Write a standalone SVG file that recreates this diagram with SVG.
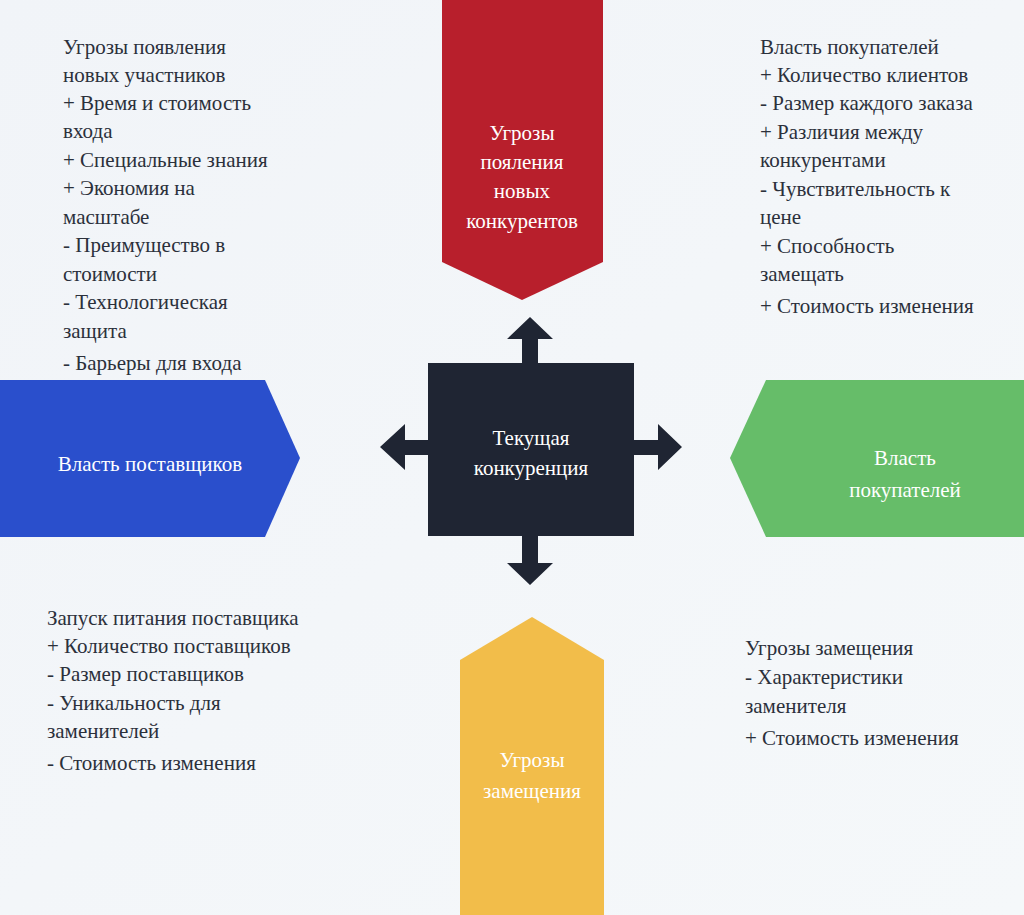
<svg xmlns="http://www.w3.org/2000/svg" width="1024" height="915" viewBox="0 0 1024 915">
<defs>
<style>
.t{font-family:'Liberation Serif','Times New Roman',serif;font-size:21px;fill:#2b303b}
.w{font-family:'Liberation Serif','Times New Roman',serif;font-size:21px;fill:#ffffff;text-anchor:middle}
.ar{fill:#1f2533}
</style>
<linearGradient id="bg" x1="0" y1="0" x2="1" y2="1">
<stop offset="0" stop-color="#f1f4f8"/>
<stop offset="1" stop-color="#f5f8fa"/>
</linearGradient>
</defs>
<rect width="1024" height="915" fill="url(#bg)"/>

<g id="connectors">
<polygon class="ar" points="530,317 553,339 538,339 538,363 522,363 522,339 507,339"/>
<polygon class="ar" points="530,585 553,563 538,563 538,536 522,536 522,563 507,563"/>
<polygon class="ar" points="380,447 405,424 405,440 428,440 428,455 405,455 405,470"/>
<polygon class="ar" points="682,447 658,424 658,440 634,440 634,455 658,455 658,470"/>
</g>

<g id="node-center">
<rect x="428" y="363" width="206" height="173" fill="#1f2533"/>
<text class="w" x="531" y="445">Текущая</text>
<text class="w" x="531" y="475">конкуренция</text>
</g>

<g id="node-top">
<polygon points="442,0 603,0 603,262 522,300 442,262" fill="#b81f2c"/>
<text class="w" x="522" y="140">Угрозы</text>
<text class="w" x="522" y="169">пояления</text>
<text class="w" x="522" y="198">новых</text>
<text class="w" x="522" y="228">конкурентов</text>
</g>

<g id="node-left">
<polygon points="0,380 265,380 300,458 265,537 0,537" fill="#2a4fcc"/>
<text class="w" x="150" y="471">Власть поставщиков</text>
</g>

<g id="node-right">
<polygon points="766,380 1024,380 1024,537 766,537 730,458" fill="#66bd69"/>
<text class="w" x="905" y="465">Власть</text>
<text class="w" x="905" y="497">покупателей</text>
</g>

<g id="node-bottom">
<polygon points="460,660 532,617 604,660 604,915 460,915" fill="#f2bd4a"/>
<text class="w" x="532" y="767">Угрозы</text>
<text class="w" x="532" y="798">замещения</text>
</g>

<g id="text-top-left">
<text class="t" x="63" y="54">Угрозы появления</text>
<text class="t" x="63" y="82">новых участников</text>
<text class="t" x="63" y="110">+ Время и стоимость</text>
<text class="t" x="63" y="138">входа</text>
<text class="t" x="63" y="167">+ Специальные знания</text>
<text class="t" x="63" y="195">+ Экономия на</text>
<text class="t" x="63" y="224">масштабе</text>
<text class="t" x="63" y="252">- Преимущество в</text>
<text class="t" x="63" y="281">стоимости</text>
<text class="t" x="63" y="309">- Технологическая</text>
<text class="t" x="63" y="338">защита</text>
<text class="t" x="63" y="370">- Барьеры для входа</text>
</g>

<g id="text-top-right">
<text class="t" x="760" y="54">Власть покупателей</text>
<text class="t" x="760" y="82">+ Количество клиентов</text>
<text class="t" x="760" y="110">- Размер каждого заказа</text>
<text class="t" x="760" y="139">+ Различия между</text>
<text class="t" x="760" y="167">конкурентами</text>
<text class="t" x="760" y="196">- Чувствительность к</text>
<text class="t" x="760" y="224">цене</text>
<text class="t" x="760" y="253">+ Способность</text>
<text class="t" x="760" y="281">замещать</text>
<text class="t" x="760" y="313">+ Стоимость изменения</text>
</g>

<g id="text-bottom-left">
<text class="t" x="47" y="625">Запуск питания поставщика</text>
<text class="t" x="47" y="653">+ Количество поставщиков</text>
<text class="t" x="47" y="681">- Размер поставщиков</text>
<text class="t" x="47" y="710">- Уникальность для</text>
<text class="t" x="47" y="738">заменителей</text>
<text class="t" x="47" y="770">- Стоимость изменения</text>
</g>

<g id="text-bottom-right">
<text class="t" x="745" y="655">Угрозы замещения</text>
<text class="t" x="745" y="684">- Характеристики</text>
<text class="t" x="745" y="713">заменителя</text>
<text class="t" x="745" y="745">+ Стоимость изменения</text>
</g>
</svg>
